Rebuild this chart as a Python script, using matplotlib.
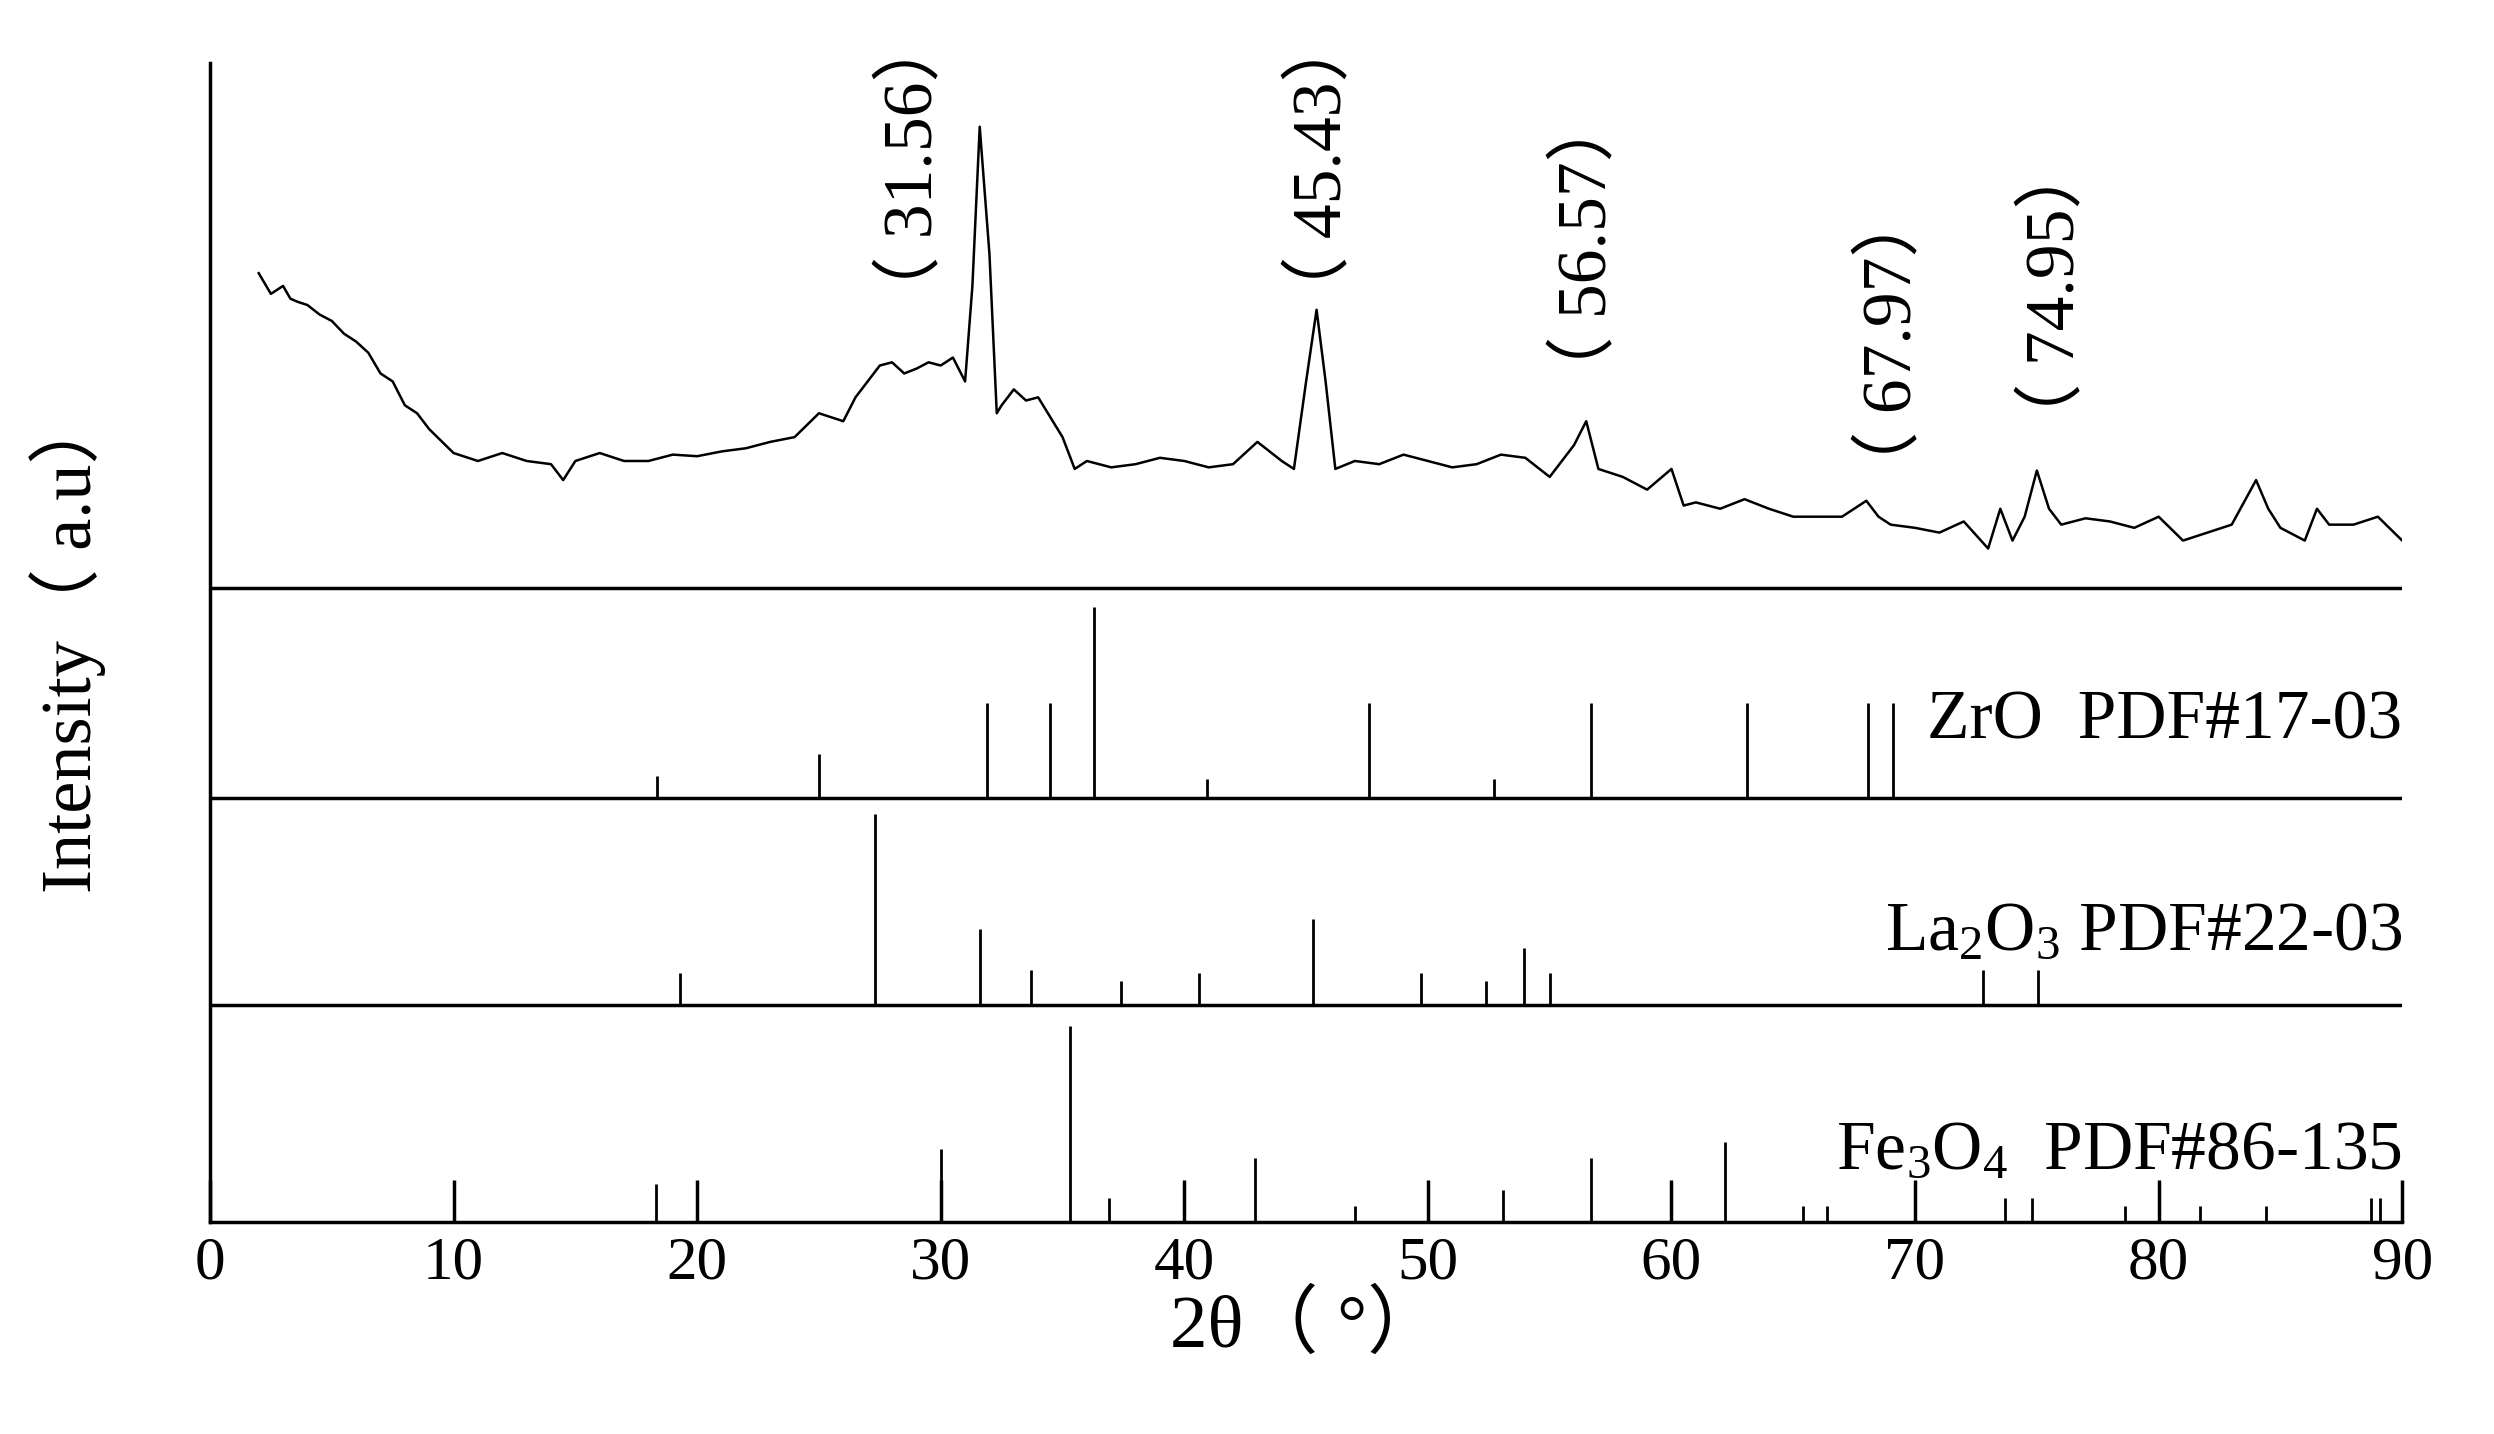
import matplotlib
matplotlib.use("Agg")
import matplotlib.pyplot as plt
import numpy as np

plt.rcParams["font.family"] = ["Liberation Serif", "Noto Sans CJK SC"]
plt.rcParams["mathtext.fontset"] = "custom"
plt.rcParams["mathtext.rm"] = "Liberation Serif"
plt.rcParams["mathtext.it"] = "Liberation Serif:italic"

# measured XRD pattern (2theta, intensity above panel baseline)
xrd_x = [2, 2.5, 3, 3.3, 3.6, 4, 4.5, 5, 5.5, 6, 6.5, 7, 7.5, 8, 8.5, 9, 10, 11, 12, 13, 14,
         14.5, 15, 16, 17, 18, 19, 20, 21, 22, 23, 24, 25, 26, 26.5, 27, 27.5, 28, 28.5, 29,
         29.5, 30, 30.5, 31, 31.3, 31.6, 32, 32.3, 32.5, 33, 33.5, 34, 35, 35.5, 36, 37, 38,
         39, 40, 41, 42, 43, 44, 44.5, 45, 45.43, 45.8, 46.2, 47, 48, 49, 50, 51, 52, 53, 54,
         55, 56, 56.5, 57, 58, 59, 60, 60.5, 61, 62, 63, 64, 65, 66, 67, 68, 68.5, 69, 70,
         71, 72, 73, 73.5, 74, 74.5, 75, 75.5, 76, 77, 78, 79, 80, 81, 82, 83, 84, 84.5, 85,
         86, 86.5, 87, 88, 89, 90]
xrd_y = [198, 185, 190, 182, 180, 178, 172, 168, 160, 155, 148, 135, 130, 115, 110, 100, 85,
         80, 85, 80, 78, 68, 80, 85, 80, 80, 84, 83, 86, 88, 92, 95, 110, 105, 120, 130, 140,
         142, 135, 138, 142, 140, 145, 130, 190, 290, 210, 110, 115, 125, 118, 120, 95, 75,
         80, 76, 78, 82, 80, 76, 78, 92, 80, 75, 130, 175, 130, 75, 80, 78, 84, 80, 76, 78,
         84, 82, 70, 90, 105, 75, 70, 62, 75, 52, 54, 50, 56, 50, 45, 45, 45, 55, 45, 40,
         38, 35, 42, 25, 50, 30, 45, 74, 50, 40, 44, 42, 38, 45, 30, 35, 40, 68, 50, 38,
         30, 50, 40, 40, 45, 30]

zro_pos = [18.35, 25.0, 31.9, 34.5, 36.3, 40.95, 47.6, 52.7, 56.7, 63.1, 68.05, 69.1]
zro_int = [14, 28, 60, 60, 120, 12, 60, 12, 60, 60, 60, 60]
la_pos = [19.3, 27.3, 31.6, 33.7, 37.4, 40.6, 45.3, 49.7, 52.4, 53.95, 55.0, 72.8, 75.05]
la_int = [20, 120, 48, 22, 15, 20, 54, 20, 15, 36, 20, 22, 22]
fe_pos = [18.3, 30.0, 35.3, 36.9, 42.9, 47.0, 53.1, 56.7, 62.2, 65.4, 66.4, 73.7, 74.8,
          78.6, 81.7, 84.4, 88.7, 89.1]
fe_int = [24, 46, 123, 15, 40, 10, 20, 40, 50, 10, 10, 15, 15, 10, 10, 10, 15, 15]

peak_labels = ["31.56", "45.43", "56.57", "67.97", "74.95"]
label_x = [28.9, 45.7, 56.6, 69.1, 75.8]
label_top = [760, 760, 710, 650, 680]

fig = plt.figure(figsize=(24.94, 14.34), dpi=100)
ax = fig.add_axes([0.0842, 0.148, 0.879, 0.808])
ax.set_xlim(0, 90)
ax.set_ylim(0, 728)

# panel baselines (bottom-up)
fe_base, la_base, zr_base, xrd_base = 0, 136, 266, 398
for b in (la_base, zr_base, xrd_base):
    ax.axhline(b, color="black", lw=2.5)

ax.plot(xrd_x, np.array(xrd_y) + xrd_base, color="black", lw=1.8)
ax.vlines(zro_pos, zr_base, np.array(zro_int) + zr_base, color="black", lw=2)
ax.vlines(la_pos, la_base, np.array(la_int) + la_base, color="black", lw=2)
ax.vlines(fe_pos, fe_base, np.array(fe_int) + fe_base, color="black", lw=2)

fs = 50
for lab, x, t in zip(peak_labels, label_x, label_top):
    ax.text(x, t, f"（ {lab}）", rotation=90, ha="center", va="top", fontsize=fs,
            clip_on=False)

ax.text(90, zr_base + 28, "ZrO  PDF#17-03", ha="right", va="bottom", fontsize=fs)
ax.text(90, la_base + 26, r"La$_2$O$_3$ PDF#22-03", ha="right", va="bottom", fontsize=fs)
ax.text(90, fe_base + 24, r"Fe$_3$O$_4$  PDF#86-135", ha="right", va="bottom", fontsize=fs)

ax.spines["top"].set_visible(False)
ax.spines["right"].set_visible(False)
for s in ("left", "bottom"):
    ax.spines[s].set_linewidth(2.5)
ax.set_xticks(range(0, 91, 10))
ax.set_yticks([])
ax.tick_params(axis="x", direction="in", length=30, width=2.5, labelsize=44, pad=10)
ax.set_xlabel("2θ（ °）", fontsize=54, labelpad=0)
ax.set_ylabel("Intensity（ a.u）", fontsize=52, labelpad=75)

fig.savefig("out.png", dpi=100)
